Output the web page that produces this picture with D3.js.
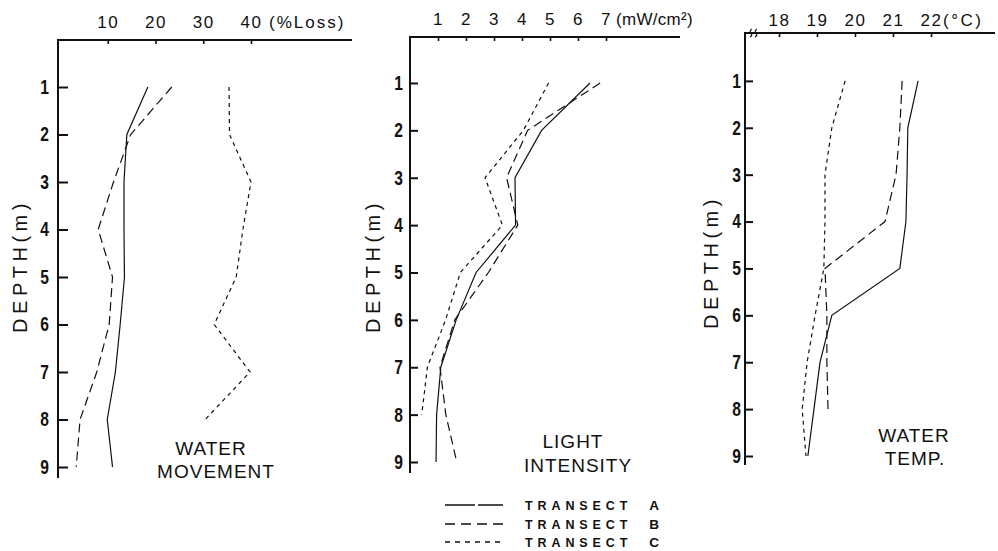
<!DOCTYPE html>
<html>
<head>
<meta charset="utf-8">
<script src="https://cdn.jsdelivr.net/npm/d3@7"></script>
<style>
  html, body { margin: 0; padding: 0; background: #fff; }
  svg { display: block; }
  text { fill: #111; }
</style>
</head>
<body>
<svg id="chart" width="998" height="551"></svg>
<script>
// ---------------- data ----------------
const depths = [1, 2, 3, 4, 5, 6, 7, 8, 9];
const depthTicks = [1, 2, 3, 4, 5, 6, 7, 8, 9];

// Water movement (% loss)
const waterA = [18.4, 14.0, 13.4, 13.4, 13.5, 12.6, 11.6, 9.9, 11.0];
const waterB = [23.4, 14.8, 11.2, 8.0, 11.0, 10.3, 7.7, 4.2, 3.4];
const waterC = [35.4, 35.5, 40.0, 38.3, 36.9, 32.3, 39.8, 30.4];
const waterTicks = [10, 20, 30, 40];

// Light intensity (mW/cm2)
const lightA = [6.43, 4.7, 3.75, 3.77, 2.36, 1.65, 1.1, 0.95, 0.93];
const lightB = [6.79, 4.2, 3.45, 3.85, 2.8, 1.6, 1.07, 1.28, 1.67];
const lightC = [4.95, 4.05, 2.68, 3.3, 1.8, 1.27, 0.62, 0.42];
const lightTicks = [1, 2, 3, 4, 5, 6, 7];

// Water temperature (°C)
const tempA = [21.66, 21.39, 21.37, 21.34, 21.18, 19.39, 19.08, 18.92, 18.76];
const tempB = [21.24, 21.18, 21.08, 20.79, 19.21, 19.26, 19.26, 19.29];
const tempC = [19.74, 19.39, 19.21, 19.21, 19.18, 18.95, 18.74, 18.61, 18.71];
const tempTicks = [18, 19, 20, 21, 22];

const transects = ["A", "B", "C"];
const legendWord = "TRANSECT";

// ---------------- styles ----------------
const dashes = [null, "9,5", "4,4"];
const legendDashes = ["30,3", "10,6", "5,5"];
const ink = "#111";
const fmtInt = d3.format("d");

const svg = d3.select("#chart");

const panels = [
  {
    xs: d3.scaleLinear().domain([0, 40]).range([60, 251]),
    ys: d3.scaleLinear().domain([0, 9]).range([39.5, 467]),
    axisX: 58, axisTop: 40, axisRight: 352, yEnd: 478,
    series: [waterA, waterB, waterC], ticks: waterTicks,
    unit: "(%Loss)", unitDx: 18, unitSpacing: 2, topPad: 12,
    yPad: 9, yTick: 10,
    title: ["WATER", "MOVEMENT"], titleX: [211, 216], titleY: [455, 478],
    depthX: 20, depthY: 266, brk: false
  },
  {
    xs: d3.scaleLinear().domain([0, 7]).range([410, 606]),
    ys: d3.scaleLinear().domain([0, 9]).range([35.6, 462]),
    axisX: 410, axisTop: 37, axisRight: 680, yEnd: 473,
    series: [lightA, lightB, lightC], ticks: lightTicks,
    unit: "(mW/cm²)", unitDx: 10, unitSpacing: 0.3, topPad: 12,
    yPad: 7, yTick: 8,
    title: ["LIGHT", "INTENSITY"], titleX: [573, 578], titleY: [448, 472],
    depthX: 373, depthY: 266, brk: false
  },
  {
    xs: d3.scaleLinear().domain([18, 22]).range([779, 931]),
    ys: d3.scaleLinear().domain([0, 9]).range([34, 456]),
    axisX: 745, axisTop: 33, axisRight: 995, yEnd: 465,
    series: [tempA, tempB, tempC], ticks: tempTicks,
    unit: "(°C)", unitDx: 12, unitSpacing: 2.5, topPad: 7,
    yPad: 4, yTick: 8,
    title: ["WATER", "TEMP."], titleX: [914, 915], titleY: [442, 465],
    depthX: 711, depthY: 262, brk: true
  }
];

const sx = 0.78; // horizontal squeeze for the narrow depth digits

panels.forEach(p => {
  const g = svg.append("g");

  // top axis line
  g.append("line")
    .attr("x1", p.axisX - 1).attr("x2", p.axisRight)
    .attr("y1", p.axisTop).attr("y2", p.axisTop)
    .attr("stroke", ink).attr("stroke-width", 2);

  // left axis line
  g.append("line")
    .attr("x1", p.axisX).attr("x2", p.axisX)
    .attr("y1", p.axisTop - 1).attr("y2", p.yEnd)
    .attr("stroke", ink).attr("stroke-width", 2);

  // top ticks + labels
  const top = g.append("g")
    .attr("transform", `translate(0,${p.axisTop})`)
    .call(d3.axisTop(p.xs).tickValues(p.ticks).tickFormat(fmtInt)
      .tickSizeInner(-4).tickSizeOuter(0).tickPadding(p.topPad));
  top.select(".domain").remove();
  top.selectAll(".tick line").attr("stroke", ink).attr("stroke-width", 1.6);
  top.selectAll(".tick text")
    .attr("font-family", "'Liberation Sans', Arial, sans-serif")
    .attr("font-size", 17).attr("fill", ink).attr("letter-spacing", 1.5);

  // unit label
  const lastTick = p.ticks[p.ticks.length - 1];
  g.append("text")
    .attr("x", p.xs(lastTick) + p.unitDx)
    .attr("y", p.axisTop - p.topPad)
    .attr("font-family", "'Liberation Sans', Arial, sans-serif")
    .attr("font-size", 17).attr("letter-spacing", p.unitSpacing)
    .text(p.unit);

  // axis break marker
  if (p.brk) {
    const bx = p.axisX + 5, by = p.axisTop;
    [0, 5].forEach(off => {
      g.append("path")
        .attr("d", `M${bx + off},${by + 4} q 3,-2 1,-4 q -2,-2 1,-4`)
        .attr("fill", "none").attr("stroke", ink).attr("stroke-width", 1.2);
    });
  }

  // y ticks (inside)
  const yt = g.append("g")
    .attr("transform", `translate(${p.axisX},0)`)
    .call(d3.axisRight(p.ys).tickValues(depthTicks).tickSize(p.yTick).tickFormat(""));
  yt.select(".domain").remove();
  yt.selectAll(".tick line").attr("stroke", ink).attr("stroke-width", 2);

  // y labels (narrow bold digits)
  const yl = g.append("g")
    .attr("transform", `translate(${p.axisX},0)`)
    .call(d3.axisLeft(p.ys).tickValues(depthTicks).tickFormat(fmtInt).tickSize(0).tickPadding(p.yPad));
  yl.select(".domain").remove();
  yl.selectAll(".tick text")
    .attr("x", -p.yPad / sx)
    .attr("transform", `scale(${sx},1)`)
    .attr("font-family", "'Liberation Sans', Arial, sans-serif")
    .attr("font-weight", "bold").attr("font-size", 20).attr("fill", ink);

  // depth label
  g.append("text")
    .attr("transform", `translate(${p.depthX},${p.depthY}) rotate(-90)`)
    .attr("text-anchor", "middle").attr("dy", "0.35em")
    .attr("font-family", "'Liberation Sans', Arial, sans-serif")
    .attr("font-size", 20).attr("letter-spacing", 4.5)
    .text("DEPTH(m)");

  // series lines
  const line = d3.line().x(d => p.xs(d.v)).y(d => p.ys(d.d));
  p.series.forEach((vals, i) => {
    const data = vals.map((v, k) => ({ v, d: depths[k] }));
    g.append("path")
      .datum(data)
      .attr("d", line)
      .attr("fill", "none")
      .attr("stroke", ink)
      .attr("stroke-width", 1.2)
      .attr("stroke-dasharray", dashes[i]);
  });

  // title
  p.title.forEach((t, i) => {
    g.append("text")
      .attr("x", p.titleX[i]).attr("y", p.titleY[i])
      .attr("text-anchor", "middle")
      .attr("font-family", "'Liberation Sans', Arial, sans-serif")
      .attr("font-size", 19).attr("letter-spacing", 1)
      .text(t);
  });
});

// legend
const legend = svg.append("g");
const legendY = [505, 524, 542];
transects.forEach((t, i) => {
  legend.append("line")
    .attr("x1", 445).attr("x2", 503)
    .attr("y1", legendY[i]).attr("y2", legendY[i])
    .attr("stroke", ink).attr("stroke-width", 1.3)
    .attr("stroke-dasharray", legendDashes[i]);
  legend.append("text")
    .attr("x", 525).attr("y", legendY[i] + 4.5)
    .attr("font-family", "'Liberation Sans', Arial, sans-serif")
    .attr("font-weight", "bold").attr("font-size", 12.5)
    .attr("letter-spacing", 4.9)
    .text(legendWord);
  legend.append("text")
    .attr("x", 654).attr("y", legendY[i] + 4.5)
    .attr("text-anchor", "middle")
    .attr("font-family", "'Liberation Sans', Arial, sans-serif")
    .attr("font-weight", "bold").attr("font-size", 13.5)
    .text(t);
});
</script>
</body>
</html>
